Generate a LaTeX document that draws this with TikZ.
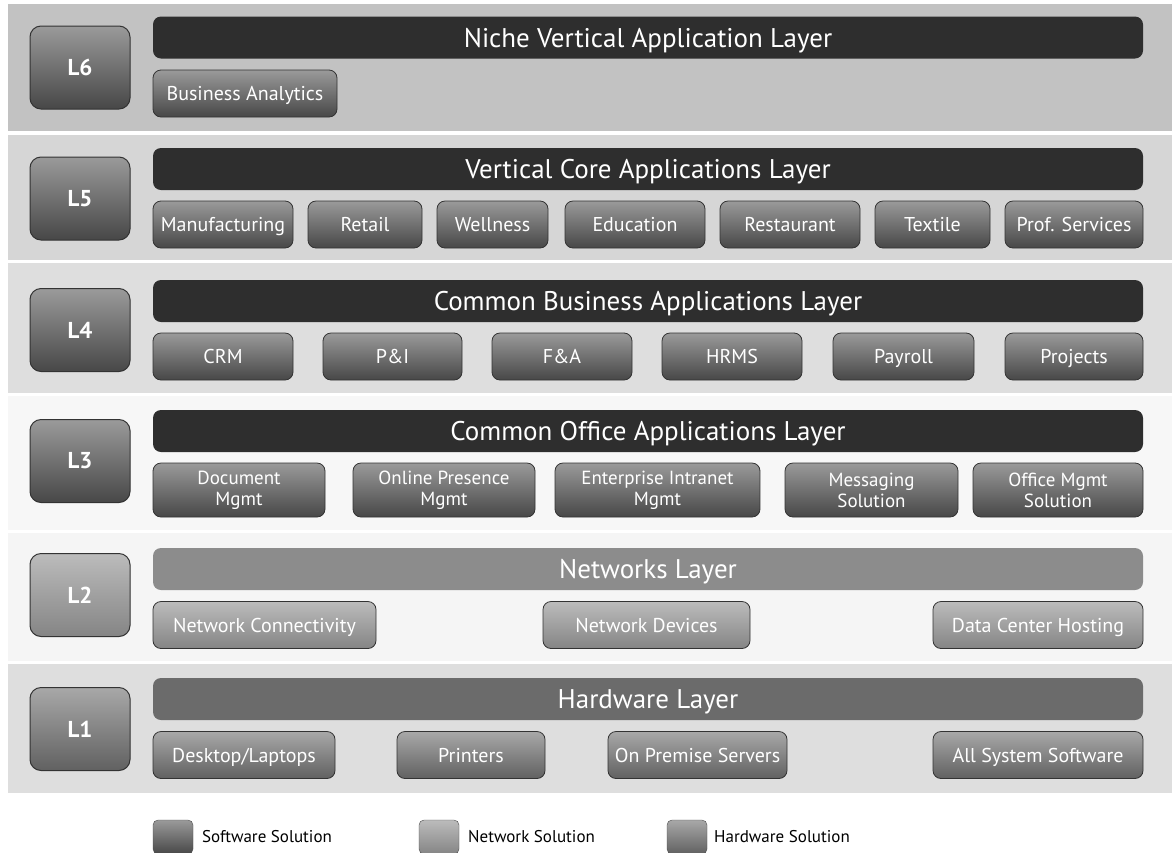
\documentclass[tikz,border=0pt]{standalone}
\usepackage{fontspec}
\setmainfont{PT Sans}
\tikzset{
  band/.style={fill=#1, draw=none},
  lbox/.style={rounded corners=11pt, draw=black!80, line width=1pt, top color=#1!55, bottom color=#1,
    text=white, minimum width=100pt, minimum height=83pt, inner sep=0pt,
    font=\bfseries\fontsize{23}{25}\selectfont},
  header/.style={rounded corners=8pt, fill=#1, draw=none, text=white, minimum width=990pt,
    minimum height=42pt, inner sep=0pt, text height=19pt, text depth=0pt,
    font=\fontsize{27}{29}\selectfont},
  subbox/.style={rounded corners=8pt, draw=black!80, line width=0.8pt, top color=#1!55, bottom color=#1,
    text=white, minimum height=47pt, inner sep=0pt, align=center,
    text height=14pt, text depth=0pt, font=\fontsize{20}{22}\selectfont},
  twoline/.style={minimum height=54pt, text height=, text depth=, font=\fontsize{19}{21}\selectfont},
  legbox/.style={rounded corners=5pt, draw=black!70, top color=#1!55, bottom color=#1,
    minimum width=40pt, minimum height=34pt, inner sep=0pt},
  legtext/.style={anchor=west, inner sep=0pt, font=\fontsize{17}{19}\selectfont}
}
\colorlet{soft}{black!72}
\colorlet{net}{black!48}
\colorlet{hard}{black!62}
\begin{document}
\begin{tikzpicture}[x=1pt,y=-1pt]
  \useasboundingbox (0,0) rectangle (1172,852);
  \fill[white] (0,0) rectangle (1172,852);

  % layer bands
  \fill[band=black!24] (8,4) rectangle (1172,131);
  \fill[band=black!16] (8,135) rectangle (1172,260);
  \fill[band=black!13] (8,263) rectangle (1172,393);
  \fill[band=black!3] (8,396) rectangle (1172,530);
  \fill[band=black!4] (8,533) rectangle (1172,661);
  \fill[band=black!13] (8,664) rectangle (1172,793);

  % layer labels
  \node[lbox=soft] (l6) at (80,67.5) {L6};
  \node[lbox=soft] (l5) at (80,198.5) {L5};
  \node[lbox=soft] (l4) at (80,330) {L4};
  \node[lbox=soft] (l3) at (80,461) {L3};
  \node[lbox=net] (l2) at (80,595) {L2};
  \node[lbox=hard] (l1) at (80,729) {L1};

  % layer headers
  \node[header=black!82] (h6) at (648,37.5) {Niche Vertical Application Layer};
  \node[header=black!82] (h5) at (648,169) {Vertical Core Applications Layer};
  \node[header=black!82] (h4) at (648,301) {Common Business Applications Layer};
  \node[header=black!82] (h3) at (648,431) {Common Office Applications Layer};
  \node[header=black!45] (h2) at (648,569) {Networks Layer};
  \node[header=black!58] (h1) at (648,699) {Hardware Layer};

  % L6
  \node[subbox=soft, minimum width=184pt] (analytics) at (245,93.5) {Business Analytics};

  % L5
  \node[subbox=soft, minimum width=140pt] (manuf) at (223,224.5) {Manufacturing};
  \node[subbox=soft, minimum width=114pt] (retail) at (365,224.5) {Retail};
  \node[subbox=soft, minimum width=111pt] (wellness) at (492.5,224.5) {Wellness};
  \node[subbox=soft, minimum width=140pt] (education) at (635,224.5) {Education};
  \node[subbox=soft, minimum width=140pt] (restaurant) at (790,224.5) {Restaurant};
  \node[subbox=soft, minimum width=115pt] (textile) at (932.5,224.5) {Textile};
  \node[subbox=soft, minimum width=138pt] (profserv) at (1074,224.5) {Prof. Services};

  % L4
  \node[subbox=soft, minimum width=140pt] (crm) at (223,356.5) {CRM};
  \node[subbox=soft, minimum width=139pt] (pni) at (392.5,356.5) {P\&I};
  \node[subbox=soft, minimum width=140pt] (fna) at (562,356.5) {F\&A};
  \node[subbox=soft, minimum width=140pt] (hrms) at (732,356.5) {HRMS};
  \node[subbox=soft, minimum width=141pt] (payroll) at (903.5,356.5) {Payroll};
  \node[subbox=soft, minimum width=138pt] (projects) at (1074,356.5) {Projects};

  % L3
  \node[subbox=soft, twoline, minimum width=172pt] (docmgmt) at (239,490) {Document\\Mgmt};
  \node[subbox=soft, twoline, minimum width=182pt] (online) at (444,490) {Online Presence\\Mgmt};
  \node[subbox=soft, twoline, minimum width=205pt] (intranet) at (657.5,490) {Enterprise Intranet\\Mgmt};
  \node[subbox=soft, twoline, minimum width=173pt] (messaging) at (871.5,490) {Messaging\\Solution};
  \node[subbox=soft, twoline, minimum width=170pt] (officemgmt) at (1058,490) {Office Mgmt\\Solution};

  % L2
  \node[subbox=net, minimum width=223pt] (netconn) at (264.5,625) {Network Connectivity};
  \node[subbox=net, minimum width=207pt] (netdev) at (646.5,625) {Network Devices};
  \node[subbox=net, minimum width=210pt] (datacenter) at (1038,625) {Data Center Hosting};

  % L1
  \node[subbox=hard, minimum width=182pt] (desktop) at (244,755) {Desktop/Laptops};
  \node[subbox=hard, minimum width=148pt] (printers) at (471,755) {Printers};
  \node[subbox=hard, minimum width=179pt] (servers) at (697.5,755) {On Premise Servers};
  \node[subbox=hard, minimum width=210pt] (syssoft) at (1038,755) {All System Software};

  % legend
  \node[legbox=soft] (legsoft) at (173,837) {};
  \node[legtext] (legsofttxt) at (202,837) {Software Solution};
  \node[legbox=net] (legnet) at (439,837) {};
  \node[legtext] (legnettxt) at (468,837) {Network Solution};
  \node[legbox=hard] (leghard) at (687,837) {};
  \node[legtext] (leghardtxt) at (714,837) {Hardware Solution};
\end{tikzpicture}
\end{document}
